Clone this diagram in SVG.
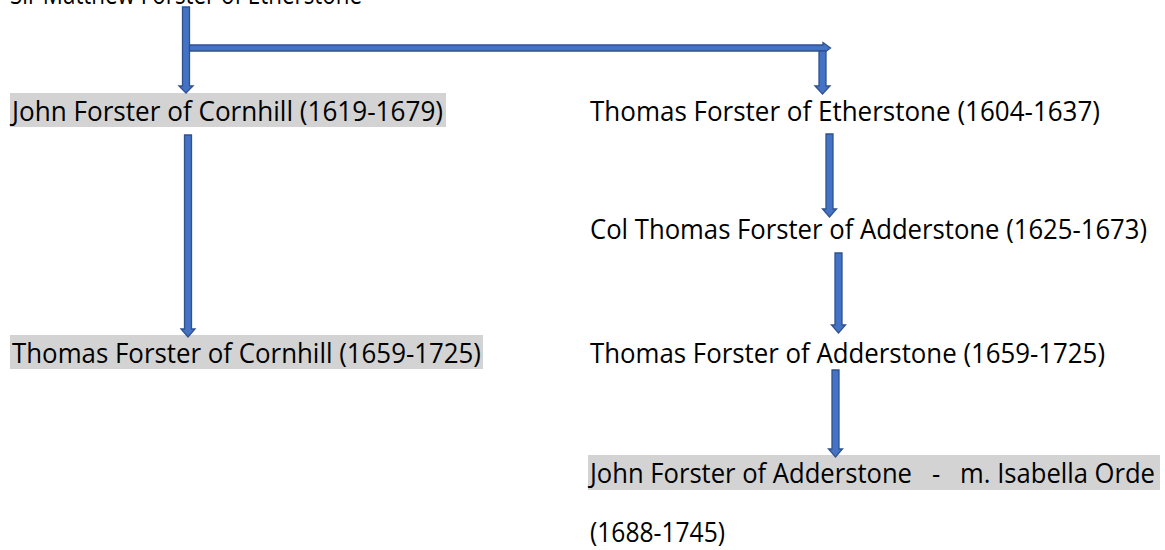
<svg xmlns="http://www.w3.org/2000/svg" width="1165" height="550" viewBox="0 0 1165 550">
<style>
text{font-family:"Open Sans","Noto Sans","Liberation Sans",sans-serif;font-size:27px;fill:#000}
.hl{fill:#d3d3d3}
.arr{fill:#4472c4;stroke:#2f528f;stroke-width:1.3;stroke-linejoin:miter}
</style>
<rect width="1165" height="550" fill="#fff"/>
<g id="node-sir-matthew"><text x="10" y="4" textLength="352" lengthAdjust="spacingAndGlyphs">Sir Matthew Forster of Etherstone</text></g>
<g id="node-john-cornhill"><rect class="hl" x="10" y="93" width="436" height="34"/><text x="12" y="121" textLength="431" lengthAdjust="spacingAndGlyphs">John Forster of Cornhill (1619-1679)</text></g>
<g id="node-thomas-etherstone"><text x="590" y="121" textLength="510" lengthAdjust="spacingAndGlyphs">Thomas Forster of Etherstone (1604-1637)</text></g>
<g id="node-col-thomas"><text x="590" y="239" textLength="557" lengthAdjust="spacingAndGlyphs">Col Thomas Forster of Adderstone (1625-1673)</text></g>
<g id="node-thomas-cornhill"><rect class="hl" x="10" y="335" width="473" height="34"/><text x="12" y="363" textLength="469" lengthAdjust="spacingAndGlyphs">Thomas Forster of Cornhill (1659-1725)</text></g>
<g id="node-thomas-adderstone"><text x="590" y="363" textLength="515" lengthAdjust="spacingAndGlyphs">Thomas Forster of Adderstone (1659-1725)</text></g>
<g id="node-john-adderstone"><rect class="hl" x="588" y="455" width="572" height="35"/><text x="590" y="483" textLength="565" lengthAdjust="spacingAndGlyphs" xml:space="preserve">John Forster of Adderstone   -   m. Isabella Orde</text><text x="590" y="542" textLength="135" lengthAdjust="spacingAndGlyphs">(1688-1745)</text></g>
<g id="connectors">
<polygon class="arr" points="182.5,7 189.5,7 189.5,86 193,86 186,93 179,86 182.5,86"/>
<polygon class="arr" points="189.5,45 823,45 823,42.5 830.5,48 823,53.5 823,51 189.5,51"/>
<polygon class="arr" points="819,51 826,51 826,86 830,86 822.5,94 815,86 819,86"/>
<polygon class="arr" points="184.5,135 191.5,135 191.5,329 195,329 188,337 181,329 184.5,329"/>
<polygon class="arr" points="826,134 833,134 833,209 836.5,209 829.5,217 822.5,209 826,209"/>
<polygon class="arr" points="835,253 842,253 842,325 845.5,325 838.5,333 831.5,325 835,325"/>
<polygon class="arr" points="832,370 839,370 839,449 842.5,449 835.5,457 828.5,449 832,449"/>
</g>
</svg>
